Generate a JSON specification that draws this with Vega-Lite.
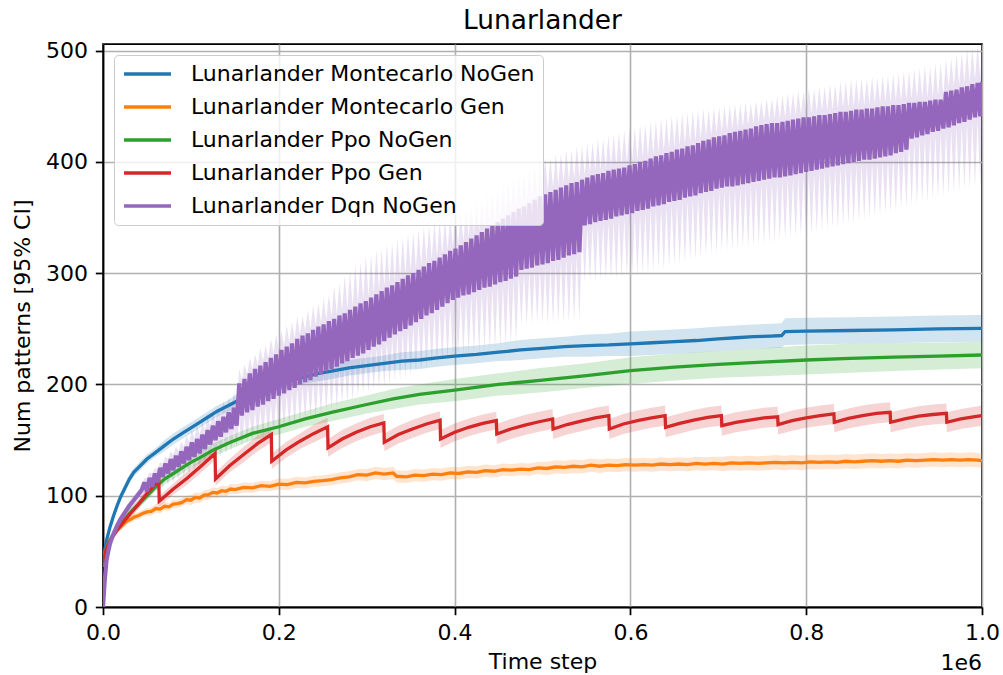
{
  "$schema": "https://vega.github.io/schema/vega-lite/v6.json",
  "width": 879,
  "height": 563,
  "autosize": {"type": "none"},
  "padding": {"left": 103, "top": 44, "right": 21, "bottom": 68},
  "background": "white",
  "title": {"text": "Lunarlander"},
  "datasets": {
    "mc_nogen": [
      {"t":0,"y":39,"lo":37,"hi":41},{"t":0.002,"y":51,"lo":48,"hi":54},{"t":0.004,"y":60,"lo":57,"hi":63},{"t":0.008,"y":72,"lo":69,"hi":75},
      {"t":0.012,"y":82,"lo":79,"hi":85},{"t":0.016,"y":91,"lo":87,"hi":95},{"t":0.02,"y":99,"lo":95,"hi":103},{"t":0.025,"y":107,"lo":103,"hi":111},
      {"t":0.03,"y":115,"lo":111,"hi":119},{"t":0.035,"y":121,"lo":117,"hi":125},{"t":0.04,"y":125,"lo":121,"hi":129},{"t":0.05,"y":133,"lo":129,"hi":137},
      {"t":0.06,"y":139,"lo":135,"hi":143},{"t":0.07,"y":145,"lo":140,"hi":150},{"t":0.08,"y":151,"lo":146,"hi":156},{"t":0.09,"y":156,"lo":151,"hi":161},
      {"t":0.1,"y":161,"lo":156,"hi":166},{"t":0.11,"y":166,"lo":161,"hi":171},{"t":0.12,"y":171,"lo":166,"hi":176},{"t":0.13,"y":176,"lo":171,"hi":181},
      {"t":0.14,"y":180,"lo":175,"hi":185},{"t":0.15,"y":184,"lo":178,"hi":190},{"t":0.162,"y":189,"lo":183,"hi":195},{"t":0.175,"y":193,"lo":187,"hi":199},
      {"t":0.187,"y":197,"lo":191,"hi":203},{"t":0.2,"y":201,"lo":195,"hi":207},{"t":0.215,"y":204,"lo":198,"hi":210},{"t":0.23,"y":207,"lo":201,"hi":213},
      {"t":0.245,"y":210,"lo":203,"hi":217},{"t":0.26,"y":212,"lo":205,"hi":219},{"t":0.28,"y":215,"lo":208,"hi":222},{"t":0.3,"y":217,"lo":210,"hi":224},
      {"t":0.32,"y":219,"lo":212,"hi":226},{"t":0.34,"y":221,"lo":213,"hi":229},{"t":0.36,"y":222,"lo":214,"hi":230},{"t":0.38,"y":224,"lo":216,"hi":232},
      {"t":0.4,"y":225.5,"lo":217.5,"hi":233.5},{"t":0.425,"y":227,"lo":219,"hi":235},{"t":0.45,"y":229,"lo":221,"hi":237},{"t":0.475,"y":231,"lo":222,"hi":240},
      {"t":0.5,"y":232.5,"lo":223.5,"hi":241.5},{"t":0.525,"y":234,"lo":225,"hi":243},{"t":0.55,"y":235,"lo":225,"hi":245},{"t":0.575,"y":235.5,"lo":225.5,"hi":245.5},
      {"t":0.6,"y":236.5,"lo":225.5,"hi":247.5},{"t":0.625,"y":237.5,"lo":226.5,"hi":248.5},{"t":0.65,"y":238.5,"lo":227.5,"hi":249.5},{"t":0.675,"y":239.5,"lo":228.5,"hi":250.5},
      {"t":0.7,"y":241,"lo":230,"hi":252},{"t":0.72,"y":242,"lo":231,"hi":253},{"t":0.74,"y":243,"lo":232,"hi":254},{"t":0.76,"y":243.5,"lo":232.5,"hi":254.5},
      {"t":0.772,"y":244,"lo":233,"hi":255},{"t":0.776,"y":247.5,"lo":235.5,"hi":259.5},{"t":0.8,"y":248,"lo":236,"hi":260},{"t":0.85,"y":248.5,"lo":236.5,"hi":260.5},
      {"t":0.9,"y":249,"lo":237,"hi":261},{"t":0.95,"y":250,"lo":238,"hi":262},{"t":1.0,"y":250.5,"lo":238.5,"hi":262.5}
    ],
    "mc_gen": [
      {"t":0,"y":42,"lo":40,"hi":44},{"t":0.002,"y":48,"lo":45.5,"hi":50.5},{"t":0.004,"y":53,"lo":50.5,"hi":55.5},{"t":0.006,"y":57,"lo":54.5,"hi":59.5},
      {"t":0.008,"y":60,"lo":57.5,"hi":62.5},{"t":0.01,"y":63,"lo":60,"hi":66},{"t":0.013,"y":66.5,"lo":63.5,"hi":69.5},{"t":0.016,"y":69.5,"lo":66,"hi":72.5},
      {"t":0.02,"y":72,"lo":69,"hi":75.5},{"t":0.024,"y":75,"lo":71.5,"hi":78},{"t":0.028,"y":77.5,"lo":74.5,"hi":81},{"t":0.032,"y":79,"lo":75.5,"hi":82},
      {"t":0.036,"y":81,"lo":78,"hi":84.5},{"t":0.04,"y":82,"lo":78.5,"hi":85},{"t":0.045,"y":84,"lo":81,"hi":87.5},{"t":0.05,"y":85.5,"lo":82,"hi":89},
      {"t":0.055,"y":86,"lo":82.5,"hi":89.5},{"t":0.06,"y":88.5,"lo":85,"hi":92.5},{"t":0.065,"y":88,"lo":84,"hi":91.5},{"t":0.07,"y":90.5,"lo":87,"hi":94.5},
      {"t":0.075,"y":90,"lo":86.5,"hi":93.5},{"t":0.08,"y":92.5,"lo":89,"hi":96.5},{"t":0.085,"y":93,"lo":89,"hi":96.5},{"t":0.09,"y":94,"lo":90.5,"hi":98},
      {"t":0.095,"y":96.5,"lo":92.5,"hi":100},{"t":0.1,"y":96,"lo":91.5,"hi":100.5},{"t":0.105,"y":98.5,"lo":94,"hi":103},{"t":0.11,"y":98,"lo":93.5,"hi":102.5},
      {"t":0.115,"y":100.5,"lo":96,"hi":105},{"t":0.12,"y":101,"lo":96.5,"hi":105.5},{"t":0.125,"y":103,"lo":98.5,"hi":107.5},{"t":0.13,"y":102.5,"lo":98,"hi":107},
      {"t":0.135,"y":104.5,"lo":100,"hi":109},{"t":0.14,"y":104,"lo":99.5,"hi":108.5},{"t":0.145,"y":106,"lo":101.5,"hi":110.5},{"t":0.15,"y":105.5,"lo":101,"hi":110},
      {"t":0.16,"y":107.5,"lo":103,"hi":112},{"t":0.17,"y":107,"lo":102.5,"hi":111.5},{"t":0.18,"y":109,"lo":104.5,"hi":113.5},{"t":0.19,"y":108.5,"lo":104,"hi":113},
      {"t":0.2,"y":110.5,"lo":105.5,"hi":115.5},{"t":0.21,"y":110,"lo":105,"hi":115},{"t":0.22,"y":112,"lo":107,"hi":117},{"t":0.23,"y":111.5,"lo":106.5,"hi":116.5},
      {"t":0.24,"y":113,"lo":108,"hi":118},{"t":0.25,"y":113.5,"lo":108.5,"hi":118.5},{"t":0.26,"y":114.5,"lo":109.5,"hi":119.5},{"t":0.27,"y":116,"lo":111,"hi":121},
      {"t":0.28,"y":117,"lo":112,"hi":122},{"t":0.29,"y":119,"lo":114,"hi":124},{"t":0.3,"y":118.5,"lo":113,"hi":124},{"t":0.31,"y":120.5,"lo":115,"hi":126},
      {"t":0.32,"y":119.5,"lo":114,"hi":125},{"t":0.33,"y":120.5,"lo":115,"hi":126},{"t":0.334,"y":117.5,"lo":112,"hi":123},{"t":0.345,"y":117,"lo":111.5,"hi":122.5},
      {"t":0.355,"y":118.5,"lo":113,"hi":124},{"t":0.365,"y":118,"lo":112.5,"hi":123.5},{"t":0.375,"y":119.5,"lo":114,"hi":125},{"t":0.385,"y":119,"lo":113.5,"hi":124.5},
      {"t":0.395,"y":120.5,"lo":115,"hi":126},{"t":0.405,"y":120,"lo":114.5,"hi":125.5},{"t":0.415,"y":121.5,"lo":116,"hi":127},{"t":0.425,"y":121,"lo":115.5,"hi":126.5},
      {"t":0.435,"y":122.5,"lo":117,"hi":128},{"t":0.445,"y":122,"lo":116.5,"hi":127.5},{"t":0.455,"y":123.5,"lo":118,"hi":129},{"t":0.465,"y":123,"lo":117.5,"hi":128.5},
      {"t":0.475,"y":124,"lo":118.5,"hi":129.5},{"t":0.485,"y":123.5,"lo":118,"hi":129},{"t":0.495,"y":125,"lo":119.5,"hi":130.5},{"t":0.505,"y":124.5,"lo":118.5,"hi":130.5},
      {"t":0.515,"y":126,"lo":120,"hi":132},{"t":0.525,"y":125.5,"lo":119.5,"hi":131.5},{"t":0.535,"y":126.5,"lo":120.5,"hi":132.5},{"t":0.545,"y":126,"lo":120,"hi":132},
      {"t":0.555,"y":127.5,"lo":121.5,"hi":133.5},{"t":0.565,"y":126.5,"lo":120.5,"hi":132.5},{"t":0.575,"y":127.5,"lo":121.5,"hi":133.5},{"t":0.585,"y":127,"lo":121,"hi":133},
      {"t":0.595,"y":128,"lo":122,"hi":134},{"t":0.605,"y":127.5,"lo":121.5,"hi":133.5},{"t":0.615,"y":128,"lo":122,"hi":134},{"t":0.625,"y":127.5,"lo":121.5,"hi":133.5},
      {"t":0.635,"y":128.5,"lo":122.5,"hi":134.5},{"t":0.645,"y":128,"lo":122,"hi":134},{"t":0.655,"y":128.5,"lo":122.5,"hi":134.5},{"t":0.665,"y":128,"lo":122,"hi":134},
      {"t":0.675,"y":129,"lo":123,"hi":135},{"t":0.685,"y":128.5,"lo":122.5,"hi":134.5},{"t":0.695,"y":129,"lo":123,"hi":135},{"t":0.705,"y":128.5,"lo":122,"hi":135},
      {"t":0.715,"y":129.5,"lo":123,"hi":136},{"t":0.725,"y":129,"lo":122.5,"hi":135.5},{"t":0.735,"y":129.5,"lo":123,"hi":136},{"t":0.745,"y":129,"lo":122.5,"hi":135.5},
      {"t":0.755,"y":129.5,"lo":123,"hi":136},{"t":0.765,"y":130,"lo":123.5,"hi":136.5},{"t":0.775,"y":129.5,"lo":123,"hi":136},{"t":0.785,"y":130,"lo":123.5,"hi":136.5},
      {"t":0.795,"y":129.5,"lo":123,"hi":136},{"t":0.805,"y":130.5,"lo":124,"hi":137},{"t":0.815,"y":130,"lo":123.5,"hi":136.5},{"t":0.825,"y":130.5,"lo":124,"hi":137},
      {"t":0.835,"y":130,"lo":123.5,"hi":136.5},{"t":0.845,"y":131,"lo":124.5,"hi":137.5},{"t":0.855,"y":130.5,"lo":124,"hi":137},{"t":0.865,"y":131,"lo":124.5,"hi":137.5},
      {"t":0.875,"y":131.5,"lo":125,"hi":138},{"t":0.885,"y":131,"lo":124.5,"hi":137.5},{"t":0.895,"y":131.5,"lo":125,"hi":138},{"t":0.905,"y":131,"lo":124.5,"hi":137.5},
      {"t":0.915,"y":132,"lo":125.5,"hi":138.5},{"t":0.925,"y":131.5,"lo":125,"hi":138},{"t":0.935,"y":132,"lo":125.5,"hi":138.5},{"t":0.945,"y":132.5,"lo":126,"hi":139},
      {"t":0.955,"y":132,"lo":125.5,"hi":138.5},{"t":0.965,"y":132.5,"lo":126,"hi":139},{"t":0.975,"y":132,"lo":125.5,"hi":138.5},{"t":0.985,"y":132.5,"lo":126,"hi":139},
      {"t":0.995,"y":132,"lo":125.5,"hi":138.5},{"t":1.0,"y":131.5,"lo":125,"hi":138}
    ],
    "ppo_nogen": [
      {"t":0,"y":36,"lo":34,"hi":38},{"t":0.003,"y":48,"lo":46,"hi":50},{"t":0.006,"y":56,"lo":53,"hi":59},{"t":0.01,"y":63,"lo":60,"hi":66},
      {"t":0.015,"y":69,"lo":66,"hi":72},{"t":0.023,"y":77,"lo":74,"hi":80},{"t":0.03,"y":84,"lo":80,"hi":88},{"t":0.04,"y":92,"lo":88,"hi":96},
      {"t":0.05,"y":100,"lo":96,"hi":104},{"t":0.06,"y":108,"lo":104,"hi":112},{"t":0.07,"y":115,"lo":110,"hi":120},{"t":0.08,"y":120,"lo":115,"hi":125},
      {"t":0.09,"y":125,"lo":120,"hi":130},{"t":0.1,"y":130,"lo":125,"hi":135},{"t":0.11,"y":134,"lo":129,"hi":139},{"t":0.125,"y":141,"lo":135,"hi":147},
      {"t":0.145,"y":148,"lo":142,"hi":154},{"t":0.17,"y":156,"lo":150,"hi":162},{"t":0.2,"y":162,"lo":155,"hi":169},{"t":0.23,"y":169,"lo":162,"hi":176},
      {"t":0.26,"y":175,"lo":167,"hi":183},{"t":0.3,"y":182,"lo":174,"hi":190},{"t":0.33,"y":187,"lo":178,"hi":196},{"t":0.36,"y":191,"lo":182,"hi":200},
      {"t":0.4,"y":195,"lo":185,"hi":205},{"t":0.45,"y":200,"lo":190,"hi":210},{"t":0.5,"y":204,"lo":193,"hi":215},{"t":0.55,"y":208,"lo":197,"hi":219},
      {"t":0.6,"y":212.5,"lo":200.5,"hi":224.5},{"t":0.65,"y":215.5,"lo":203.5,"hi":227.5},{"t":0.7,"y":218,"lo":206,"hi":230},{"t":0.75,"y":220,"lo":207.5,"hi":232.5},
      {"t":0.8,"y":222,"lo":209,"hi":235},{"t":0.85,"y":223.5,"lo":210.5,"hi":236.5},{"t":0.9,"y":224.5,"lo":212,"hi":237},{"t":0.95,"y":225.5,"lo":213.5,"hi":237.5},
      {"t":1.0,"y":226.5,"lo":214.5,"hi":238.5}
    ],
    "ppo_gen": [
      {"t":0,"y":40,"lo":38,"hi":42},{"t":0.003,"y":50,"lo":48,"hi":52},{"t":0.006,"y":56,"lo":53,"hi":59},{"t":0.01,"y":62,"lo":59,"hi":65},
      {"t":0.015,"y":68,"lo":65,"hi":71},{"t":0.023,"y":76,"lo":72,"hi":80},{"t":0.03,"y":83,"lo":79,"hi":87},{"t":0.04,"y":92,"lo":88,"hi":96},
      {"t":0.05,"y":102,"lo":97,"hi":107},{"t":0.0635,"y":114,"lo":109,"hi":119},
      {"t":0.064,"y":95,"lo":90,"hi":100},{"t":0.08,"y":106,"lo":101,"hi":111},{"t":0.096,"y":116,"lo":110,"hi":122},{"t":0.112,"y":127,"lo":121,"hi":133},{"t":0.1275,"y":138,"lo":132,"hi":144},
      {"t":0.128,"y":115,"lo":109,"hi":121},{"t":0.144,"y":127,"lo":121,"hi":133},{"t":0.16,"y":137,"lo":130,"hi":144},{"t":0.176,"y":147,"lo":140,"hi":154},{"t":0.1915,"y":155,"lo":148,"hi":162},
      {"t":0.192,"y":131,"lo":124,"hi":138},{"t":0.208,"y":141,"lo":134,"hi":148},{"t":0.224,"y":149,"lo":142,"hi":156},{"t":0.24,"y":156,"lo":148,"hi":164},{"t":0.2555,"y":162,"lo":154,"hi":170},
      {"t":0.256,"y":143,"lo":135,"hi":151},{"t":0.272,"y":151,"lo":143,"hi":159},{"t":0.288,"y":157,"lo":149,"hi":165},{"t":0.304,"y":162,"lo":154,"hi":170},{"t":0.3195,"y":165.5,"lo":157.5,"hi":173.5},
      {"t":0.32,"y":148,"lo":140,"hi":156},{"t":0.336,"y":155,"lo":147,"hi":163},{"t":0.352,"y":160,"lo":152,"hi":168},{"t":0.368,"y":164.5,"lo":156.5,"hi":172.5},{"t":0.3835,"y":168,"lo":160,"hi":176},
      {"t":0.384,"y":151,"lo":143,"hi":159},{"t":0.4,"y":157,"lo":149,"hi":165},{"t":0.416,"y":161.5,"lo":153.5,"hi":169.5},{"t":0.432,"y":165,"lo":157,"hi":173},{"t":0.4475,"y":167.5,"lo":159.5,"hi":175.5},
      {"t":0.448,"y":155.5,"lo":146.5,"hi":164.5},{"t":0.464,"y":160,"lo":151,"hi":169},{"t":0.48,"y":163.5,"lo":154.5,"hi":172.5},{"t":0.496,"y":166.5,"lo":157.5,"hi":175.5},{"t":0.5115,"y":169,"lo":160,"hi":178},
      {"t":0.512,"y":160,"lo":151,"hi":169},{"t":0.528,"y":164,"lo":155,"hi":173},{"t":0.544,"y":167,"lo":158,"hi":176},{"t":0.56,"y":170,"lo":161,"hi":179},{"t":0.5755,"y":172,"lo":163,"hi":181},
      {"t":0.576,"y":160,"lo":151,"hi":169},{"t":0.592,"y":164.5,"lo":155.5,"hi":173.5},{"t":0.608,"y":167.5,"lo":158.5,"hi":176.5},{"t":0.624,"y":170,"lo":161,"hi":179},{"t":0.6395,"y":172,"lo":163,"hi":181},
      {"t":0.64,"y":161.5,"lo":152.5,"hi":170.5},{"t":0.656,"y":165,"lo":156,"hi":174},{"t":0.672,"y":168,"lo":159,"hi":177},{"t":0.688,"y":170.5,"lo":161.5,"hi":179.5},{"t":0.7035,"y":172,"lo":163,"hi":181},
      {"t":0.704,"y":163,"lo":154,"hi":172},{"t":0.72,"y":166,"lo":157,"hi":175},{"t":0.736,"y":168,"lo":159,"hi":177},{"t":0.752,"y":170,"lo":161,"hi":179},{"t":0.7675,"y":171,"lo":162,"hi":180},
      {"t":0.768,"y":164,"lo":155,"hi":173},{"t":0.784,"y":167.5,"lo":158.5,"hi":176.5},{"t":0.8,"y":170,"lo":161,"hi":179},{"t":0.816,"y":172,"lo":163,"hi":181},{"t":0.8315,"y":173.5,"lo":164.5,"hi":182.5},
      {"t":0.832,"y":166,"lo":157,"hi":175},{"t":0.848,"y":169.5,"lo":160.5,"hi":178.5},{"t":0.864,"y":172,"lo":163,"hi":181},{"t":0.88,"y":174,"lo":165,"hi":183},{"t":0.8955,"y":175,"lo":166,"hi":184},
      {"t":0.896,"y":166,"lo":157,"hi":175},{"t":0.912,"y":169,"lo":160,"hi":178},{"t":0.928,"y":171.5,"lo":162.5,"hi":180.5},{"t":0.944,"y":173,"lo":164,"hi":182},{"t":0.9595,"y":174,"lo":165,"hi":183},
      {"t":0.96,"y":166,"lo":157,"hi":175},{"t":0.976,"y":169,"lo":160,"hi":178},{"t":0.992,"y":171,"lo":162,"hi":180},{"t":1.0,"y":172,"lo":163,"hi":181}
    ],
    "dqn_nogen": [
      {"t":0,"y":0,"lo":0,"hi":2},{"t":0.001,"y":12,"lo":9,"hi":15},{"t":0.002,"y":24,"lo":20,"hi":28},{"t":0.003,"y":33,"lo":29,"hi":37},
      {"t":0.004,"y":42,"lo":38,"hi":46},{"t":0.006,"y":50,"lo":46,"hi":54},{"t":0.008,"y":57,"lo":53,"hi":61},{"t":0.012,"y":66,"lo":62,"hi":70},
      {"t":0.016,"y":73,"lo":69,"hi":77},{"t":0.02,"y":79,"lo":75,"hi":83},{"t":0.025,"y":85,"lo":81,"hi":89},{"t":0.03,"y":91,"lo":87,"hi":95},
      {"t":0.035,"y":96,"lo":92,"hi":100},{"t":0.04,"y":101,"lo":97,"hi":105},{"t":0.044,"y":105,"lo":100,"hi":110},
      {"t":0.047,"y":112,"lo":100,"hi":116},{"t":0.05,"y":104,"lo":99,"hi":116},
      {"t":0.053,"y":116,"lo":104,"hi":121},{"t":0.056,"y":108,"lo":102,"hi":120},
      {"t":0.059,"y":120,"lo":108,"hi":125},{"t":0.062,"y":112,"lo":104,"hi":124},
      {"t":0.065,"y":125,"lo":113,"hi":130},{"t":0.068,"y":117,"lo":107,"hi":129},
      {"t":0.071,"y":129,"lo":116,"hi":135},{"t":0.074,"y":120,"lo":110,"hi":133},
      {"t":0.077,"y":133,"lo":119,"hi":140},{"t":0.08,"y":123,"lo":112,"hi":137},
      {"t":0.083,"y":136,"lo":122,"hi":144},{"t":0.086,"y":126,"lo":115,"hi":140},
      {"t":0.089,"y":140,"lo":125,"hi":149},{"t":0.092,"y":129,"lo":118,"hi":144},
      {"t":0.095,"y":144,"lo":128,"hi":154},{"t":0.098,"y":132,"lo":120,"hi":148},
      {"t":0.101,"y":148,"lo":131,"hi":159},{"t":0.104,"y":135,"lo":123,"hi":152},
      {"t":0.107,"y":151,"lo":134,"hi":163},{"t":0.11,"y":138,"lo":125,"hi":155},
      {"t":0.113,"y":155,"lo":138,"hi":167},{"t":0.116,"y":142,"lo":127,"hi":159},
      {"t":0.119,"y":159,"lo":142,"hi":171},{"t":0.122,"y":146,"lo":131,"hi":163},
      {"t":0.125,"y":163,"lo":146,"hi":176},{"t":0.128,"y":150,"lo":133,"hi":167},
      {"t":0.131,"y":167,"lo":149,"hi":180},{"t":0.134,"y":153,"lo":135,"hi":171},
      {"t":0.137,"y":171,"lo":153,"hi":185},{"t":0.14,"y":157,"lo":138,"hi":175},
      {"t":0.143,"y":175,"lo":156,"hi":188},{"t":0.146,"y":160,"lo":140,"hi":179},
      {"t":0.149,"y":179,"lo":159,"hi":193},{"t":0.152,"y":163,"lo":143,"hi":183},
      {"t":0.155,"y":201,"lo":168,"hi":214},{"t":0.158,"y":172,"lo":144,"hi":205},
      {"t":0.161,"y":205,"lo":171,"hi":218},{"t":0.164,"y":175,"lo":147,"hi":209},
      {"t":0.167,"y":210,"lo":173,"hi":224},{"t":0.17,"y":177,"lo":148,"hi":214},
      {"t":0.173,"y":214,"lo":176,"hi":227},{"t":0.176,"y":180,"lo":151,"hi":218},
      {"t":0.179,"y":217,"lo":178,"hi":233},{"t":0.182,"y":182,"lo":152,"hi":221},
      {"t":0.185,"y":220,"lo":181,"hi":235},{"t":0.188,"y":185,"lo":154,"hi":224},
      {"t":0.191,"y":224,"lo":183,"hi":241},{"t":0.194,"y":187,"lo":155,"hi":228},
      {"t":0.197,"y":227,"lo":186,"hi":245},{"t":0.2,"y":190,"lo":157,"hi":231},
      {"t":0.203,"y":231,"lo":188,"hi":248},{"t":0.206,"y":192,"lo":160,"hi":235},
      {"t":0.209,"y":234,"lo":191,"hi":253},{"t":0.212,"y":195,"lo":161,"hi":238},
      {"t":0.215,"y":237,"lo":193,"hi":256},{"t":0.218,"y":197,"lo":163,"hi":241},
      {"t":0.221,"y":241,"lo":196,"hi":261},{"t":0.224,"y":200,"lo":166,"hi":245},
      {"t":0.227,"y":244,"lo":198,"hi":262},{"t":0.23,"y":202,"lo":169,"hi":248},
      {"t":0.233,"y":246,"lo":200,"hi":267},{"t":0.236,"y":204,"lo":170,"hi":250},
      {"t":0.239,"y":249,"lo":203,"hi":271},{"t":0.242,"y":207,"lo":171,"hi":253},
      {"t":0.245,"y":252,"lo":205,"hi":273},{"t":0.248,"y":209,"lo":174,"hi":256},
      {"t":0.251,"y":254,"lo":208,"hi":278},{"t":0.254,"y":212,"lo":177,"hi":258},
      {"t":0.257,"y":257,"lo":210,"hi":281},{"t":0.26,"y":214,"lo":178,"hi":261},
      {"t":0.263,"y":259,"lo":212,"hi":288},{"t":0.266,"y":216,"lo":180,"hi":263},
      {"t":0.269,"y":262,"lo":215,"hi":291},{"t":0.272,"y":219,"lo":183,"hi":266},
      {"t":0.275,"y":264,"lo":217,"hi":298},{"t":0.278,"y":221,"lo":184,"hi":268},
      {"t":0.281,"y":267,"lo":220,"hi":301},{"t":0.284,"y":224,"lo":186,"hi":271},
      {"t":0.287,"y":270,"lo":222,"hi":307},{"t":0.29,"y":226,"lo":189,"hi":274},
      {"t":0.293,"y":273,"lo":224,"hi":310},{"t":0.296,"y":228,"lo":192,"hi":277},
      {"t":0.299,"y":275,"lo":227,"hi":316},{"t":0.302,"y":231,"lo":193,"hi":279},
      {"t":0.305,"y":278,"lo":230,"hi":317},{"t":0.308,"y":234,"lo":195,"hi":282},
      {"t":0.311,"y":281,"lo":232,"hi":321},{"t":0.314,"y":236,"lo":197,"hi":285},
      {"t":0.317,"y":284,"lo":235,"hi":322},{"t":0.32,"y":239,"lo":198,"hi":288},
      {"t":0.323,"y":287,"lo":238,"hi":326},{"t":0.326,"y":242,"lo":200,"hi":291},
      {"t":0.329,"y":289,"lo":241,"hi":327},{"t":0.332,"y":245,"lo":203,"hi":293},
      {"t":0.335,"y":292,"lo":244,"hi":331},{"t":0.338,"y":248,"lo":204,"hi":296},
      {"t":0.341,"y":295,"lo":246,"hi":332},{"t":0.344,"y":250,"lo":206,"hi":299},
      {"t":0.347,"y":298,"lo":249,"hi":336},{"t":0.35,"y":253,"lo":208,"hi":302},
      {"t":0.353,"y":300,"lo":252,"hi":337},{"t":0.356,"y":256,"lo":211,"hi":304},
      {"t":0.359,"y":303,"lo":255,"hi":339},{"t":0.362,"y":259,"lo":212,"hi":307},
      {"t":0.365,"y":306,"lo":258,"hi":342},{"t":0.368,"y":262,"lo":214,"hi":310},
      {"t":0.371,"y":309,"lo":260,"hi":343},{"t":0.374,"y":264,"lo":217,"hi":313},
      {"t":0.377,"y":311,"lo":263,"hi":346},{"t":0.38,"y":267,"lo":218,"hi":315},
      {"t":0.383,"y":314,"lo":266,"hi":347},{"t":0.386,"y":270,"lo":220,"hi":318},
      {"t":0.389,"y":317,"lo":269,"hi":349},{"t":0.392,"y":273,"lo":222,"hi":321},
      {"t":0.395,"y":320,"lo":272,"hi":350},{"t":0.398,"y":276,"lo":225,"hi":324},
      {"t":0.401,"y":322,"lo":274,"hi":353},{"t":0.404,"y":278,"lo":226,"hi":326},
      {"t":0.407,"y":325,"lo":276,"hi":355},{"t":0.41,"y":280,"lo":227,"hi":329},
      {"t":0.413,"y":328,"lo":277,"hi":359},{"t":0.416,"y":281,"lo":228,"hi":332},
      {"t":0.419,"y":331,"lo":279,"hi":361},{"t":0.422,"y":283,"lo":229,"hi":335},
      {"t":0.425,"y":334,"lo":281,"hi":365},{"t":0.428,"y":285,"lo":229,"hi":338},
      {"t":0.431,"y":337,"lo":283,"hi":367},{"t":0.434,"y":287,"lo":231,"hi":341},
      {"t":0.437,"y":340,"lo":284,"hi":371},{"t":0.44,"y":288,"lo":231,"hi":344},
      {"t":0.443,"y":343,"lo":286,"hi":373},{"t":0.446,"y":290,"lo":233,"hi":347},
      {"t":0.449,"y":346,"lo":288,"hi":376},{"t":0.452,"y":292,"lo":233,"hi":350},
      {"t":0.455,"y":349,"lo":289,"hi":379},{"t":0.458,"y":293,"lo":235,"hi":353},
      {"t":0.461,"y":352,"lo":291,"hi":383},{"t":0.464,"y":295,"lo":236,"hi":356},
      {"t":0.467,"y":355,"lo":293,"hi":385},{"t":0.47,"y":297,"lo":238,"hi":359},
      {"t":0.473,"y":358,"lo":299,"hi":389},{"t":0.476,"y":303,"lo":254,"hi":362},
      {"t":0.479,"y":360,"lo":300,"hi":391},{"t":0.482,"y":304,"lo":253,"hi":364},
      {"t":0.485,"y":363,"lo":301,"hi":395},{"t":0.488,"y":305,"lo":254,"hi":367},
      {"t":0.491,"y":366,"lo":303,"hi":397},{"t":0.494,"y":307,"lo":256,"hi":370},
      {"t":0.497,"y":369,"lo":304,"hi":400},{"t":0.5,"y":308,"lo":255,"hi":373},
      {"t":0.503,"y":371,"lo":305,"hi":404},{"t":0.506,"y":309,"lo":254,"hi":375},
      {"t":0.509,"y":373,"lo":307,"hi":404},{"t":0.512,"y":311,"lo":255,"hi":377},
      {"t":0.515,"y":375,"lo":308,"hi":407},{"t":0.518,"y":312,"lo":256,"hi":379},
      {"t":0.521,"y":377,"lo":310,"hi":408},{"t":0.524,"y":314,"lo":255,"hi":381},
      {"t":0.527,"y":379,"lo":312,"hi":411},{"t":0.53,"y":316,"lo":256,"hi":383},
      {"t":0.533,"y":381,"lo":313,"hi":411},{"t":0.536,"y":317,"lo":257,"hi":385},
      {"t":0.539,"y":382,"lo":315,"hi":414},{"t":0.542,"y":319,"lo":256,"hi":386},
      {"t":0.545,"y":384,"lo":339,"hi":415},{"t":0.548,"y":343,"lo":292,"hi":388},
      {"t":0.551,"y":386,"lo":340,"hi":417},{"t":0.554,"y":344,"lo":293,"hi":390},
      {"t":0.557,"y":388,"lo":342,"hi":418},{"t":0.56,"y":346,"lo":292,"hi":392},
      {"t":0.563,"y":389,"lo":343,"hi":421},{"t":0.566,"y":347,"lo":294,"hi":393},
      {"t":0.569,"y":390,"lo":344,"hi":421},{"t":0.572,"y":348,"lo":295,"hi":394},
      {"t":0.575,"y":392,"lo":345,"hi":424},{"t":0.578,"y":349,"lo":295,"hi":396},
      {"t":0.581,"y":393,"lo":347,"hi":425},{"t":0.584,"y":351,"lo":294,"hi":397},
      {"t":0.587,"y":394,"lo":348,"hi":427},{"t":0.59,"y":352,"lo":296,"hi":398},
      {"t":0.593,"y":395,"lo":349,"hi":428},{"t":0.596,"y":353,"lo":298,"hi":399},
      {"t":0.599,"y":397,"lo":350,"hi":431},{"t":0.602,"y":354,"lo":297,"hi":401},
      {"t":0.605,"y":398,"lo":352,"hi":431},{"t":0.608,"y":356,"lo":298,"hi":402},
      {"t":0.611,"y":400,"lo":353,"hi":434},{"t":0.614,"y":357,"lo":300,"hi":404},
      {"t":0.617,"y":401,"lo":354,"hi":434},{"t":0.62,"y":358,"lo":300,"hi":405},
      {"t":0.623,"y":403,"lo":356,"hi":437},{"t":0.626,"y":360,"lo":302,"hi":407},
      {"t":0.629,"y":405,"lo":357,"hi":437},{"t":0.632,"y":361,"lo":304,"hi":409},
      {"t":0.635,"y":406,"lo":358,"hi":439},{"t":0.638,"y":362,"lo":303,"hi":410},
      {"t":0.641,"y":408,"lo":360,"hi":440},{"t":0.644,"y":364,"lo":305,"hi":412},
      {"t":0.647,"y":409,"lo":361,"hi":442},{"t":0.65,"y":365,"lo":307,"hi":413},
      {"t":0.653,"y":411,"lo":362,"hi":442},{"t":0.656,"y":366,"lo":307,"hi":415},
      {"t":0.659,"y":412,"lo":364,"hi":444},{"t":0.662,"y":368,"lo":309,"hi":416},
      {"t":0.665,"y":414,"lo":365,"hi":444},{"t":0.668,"y":369,"lo":311,"hi":418},
      {"t":0.671,"y":415,"lo":366,"hi":446},{"t":0.674,"y":370,"lo":312,"hi":419},
      {"t":0.677,"y":417,"lo":368,"hi":446},{"t":0.68,"y":372,"lo":313,"hi":421},
      {"t":0.683,"y":419,"lo":369,"hi":448},{"t":0.686,"y":373,"lo":315,"hi":423},
      {"t":0.689,"y":420,"lo":370,"hi":447},{"t":0.692,"y":374,"lo":317,"hi":424},
      {"t":0.695,"y":422,"lo":372,"hi":449},{"t":0.698,"y":376,"lo":317,"hi":426},
      {"t":0.701,"y":423,"lo":373,"hi":449},{"t":0.704,"y":377,"lo":319,"hi":427},
      {"t":0.707,"y":424,"lo":374,"hi":451},{"t":0.71,"y":378,"lo":320,"hi":428},
      {"t":0.713,"y":426,"lo":374,"hi":451},{"t":0.716,"y":378,"lo":321,"hi":430},
      {"t":0.719,"y":427,"lo":375,"hi":452},{"t":0.722,"y":379,"lo":322,"hi":431},
      {"t":0.725,"y":428,"lo":376,"hi":452},{"t":0.728,"y":380,"lo":323,"hi":432},
      {"t":0.731,"y":429,"lo":377,"hi":454},{"t":0.734,"y":381,"lo":323,"hi":433},
      {"t":0.737,"y":430,"lo":378,"hi":453},{"t":0.74,"y":382,"lo":324,"hi":434},
      {"t":0.743,"y":432,"lo":379,"hi":455},{"t":0.746,"y":383,"lo":326,"hi":436},
      {"t":0.749,"y":433,"lo":380,"hi":455},{"t":0.752,"y":384,"lo":326,"hi":437},
      {"t":0.755,"y":434,"lo":381,"hi":457},{"t":0.758,"y":385,"lo":327,"hi":438},
      {"t":0.761,"y":435,"lo":382,"hi":457},{"t":0.764,"y":386,"lo":328,"hi":439},
      {"t":0.767,"y":435,"lo":382,"hi":459},{"t":0.77,"y":386,"lo":330,"hi":439},
      {"t":0.773,"y":436,"lo":383,"hi":460},{"t":0.776,"y":387,"lo":330,"hi":440},
      {"t":0.779,"y":437,"lo":384,"hi":462},{"t":0.782,"y":388,"lo":331,"hi":441},
      {"t":0.785,"y":438,"lo":385,"hi":462},{"t":0.788,"y":389,"lo":333,"hi":442},
      {"t":0.791,"y":439,"lo":386,"hi":464},{"t":0.794,"y":390,"lo":333,"hi":443},
      {"t":0.797,"y":440,"lo":387,"hi":464},{"t":0.8,"y":391,"lo":334,"hi":444},
      {"t":0.803,"y":440,"lo":388,"hi":466},{"t":0.806,"y":392,"lo":335,"hi":444},
      {"t":0.809,"y":441,"lo":389,"hi":466},{"t":0.812,"y":393,"lo":337,"hi":445},
      {"t":0.815,"y":442,"lo":390,"hi":468},{"t":0.818,"y":394,"lo":338,"hi":446},
      {"t":0.821,"y":442,"lo":391,"hi":468},{"t":0.824,"y":395,"lo":339,"hi":446},
      {"t":0.827,"y":443,"lo":392,"hi":470},{"t":0.83,"y":396,"lo":341,"hi":447},
      {"t":0.833,"y":444,"lo":393,"hi":470},{"t":0.836,"y":397,"lo":341,"hi":448},
      {"t":0.839,"y":445,"lo":394,"hi":472},{"t":0.842,"y":398,"lo":343,"hi":449},
      {"t":0.845,"y":445,"lo":395,"hi":472},{"t":0.848,"y":399,"lo":344,"hi":449},
      {"t":0.851,"y":446,"lo":396,"hi":474},{"t":0.854,"y":400,"lo":345,"hi":450},
      {"t":0.857,"y":447,"lo":397,"hi":474},{"t":0.86,"y":401,"lo":347,"hi":451},
      {"t":0.863,"y":447,"lo":398,"hi":475},{"t":0.866,"y":402,"lo":348,"hi":451},
      {"t":0.869,"y":448,"lo":398,"hi":475},{"t":0.872,"y":402,"lo":350,"hi":452},
      {"t":0.875,"y":448,"lo":399,"hi":477},{"t":0.878,"y":403,"lo":351,"hi":452},
      {"t":0.881,"y":449,"lo":400,"hi":476},{"t":0.884,"y":404,"lo":353,"hi":453},
      {"t":0.887,"y":450,"lo":401,"hi":478},{"t":0.89,"y":405,"lo":354,"hi":454},
      {"t":0.893,"y":450,"lo":402,"hi":477},{"t":0.896,"y":406,"lo":356,"hi":454},
      {"t":0.899,"y":451,"lo":404,"hi":479},{"t":0.902,"y":408,"lo":356,"hi":455},
      {"t":0.905,"y":451,"lo":405,"hi":479},{"t":0.908,"y":409,"lo":358,"hi":455},
      {"t":0.911,"y":452,"lo":407,"hi":481},{"t":0.914,"y":411,"lo":359,"hi":456},
      {"t":0.917,"y":453,"lo":417,"hi":481},{"t":0.92,"y":421,"lo":361,"hi":457},
      {"t":0.923,"y":453,"lo":418,"hi":484},{"t":0.926,"y":422,"lo":362,"hi":457},
      {"t":0.929,"y":454,"lo":420,"hi":484},{"t":0.932,"y":424,"lo":364,"hi":458},
      {"t":0.935,"y":454,"lo":421,"hi":486},{"t":0.938,"y":425,"lo":364,"hi":458},
      {"t":0.941,"y":455,"lo":423,"hi":486},{"t":0.944,"y":427,"lo":366,"hi":459},
      {"t":0.947,"y":456,"lo":424,"hi":488},{"t":0.95,"y":428,"lo":367,"hi":460},
      {"t":0.953,"y":456,"lo":426,"hi":489},{"t":0.956,"y":430,"lo":369,"hi":460},
      {"t":0.959,"y":463,"lo":427,"hi":492},{"t":0.962,"y":431,"lo":370,"hi":467},
      {"t":0.965,"y":464,"lo":429,"hi":493},{"t":0.968,"y":433,"lo":372,"hi":468},
      {"t":0.971,"y":465,"lo":431,"hi":497},{"t":0.974,"y":435,"lo":373,"hi":469},
      {"t":0.977,"y":467,"lo":432,"hi":498},{"t":0.98,"y":436,"lo":375,"hi":471},
      {"t":0.983,"y":468,"lo":434,"hi":501},{"t":0.986,"y":438,"lo":376,"hi":472},
      {"t":0.989,"y":470,"lo":436,"hi":502},{"t":0.992,"y":440,"lo":378,"hi":474},
      {"t":0.995,"y":471,"lo":437,"hi":505},{"t":0.998,"y":441,"lo":378,"hi":475},
      {"t":1.0,"y":472,"lo":438,"hi":506}
    ],
    "offset_note": [{"label": "1e6", "t": 1, "y": 0}]
  },
  "encoding": {
    "x": {
      "field": "t",
      "type": "quantitative",
      "title": "Time step",
      "scale": {"domain": [0, 1], "nice": false, "zero": false},
      "axis": {"values": [0, 0.2, 0.4, 0.6, 0.8, 1.0], "format": ".1f"}
    },
    "y": {
      "field": "y",
      "type": "quantitative",
      "title": "Num patterns [95% CI]",
      "scale": {"domain": [0, 506], "nice": false, "zero": false},
      "axis": {"values": [0, 100, 200, 300, 400, 500]}
    }
  },
  "layer": [
    {
      "data": {"name": "mc_nogen"},
      "mark": {"type": "area", "color": "#1f77b4", "opacity": 0.2, "clip": true},
      "encoding": {"y": {"field": "lo", "type": "quantitative", "title": "Num patterns [95% CI]"}, "y2": {"field": "hi"}}
    },
    {
      "data": {"name": "mc_gen"},
      "mark": {"type": "area", "color": "#ff7f0e", "opacity": 0.2, "clip": true},
      "encoding": {"y": {"field": "lo", "type": "quantitative", "title": "Num patterns [95% CI]"}, "y2": {"field": "hi"}}
    },
    {
      "data": {"name": "ppo_nogen"},
      "mark": {"type": "area", "color": "#2ca02c", "opacity": 0.2, "clip": true},
      "encoding": {"y": {"field": "lo", "type": "quantitative", "title": "Num patterns [95% CI]"}, "y2": {"field": "hi"}}
    },
    {
      "data": {"name": "ppo_gen"},
      "mark": {"type": "area", "color": "#d62728", "opacity": 0.2, "clip": true},
      "encoding": {"y": {"field": "lo", "type": "quantitative", "title": "Num patterns [95% CI]"}, "y2": {"field": "hi"}}
    },
    {
      "data": {"name": "dqn_nogen"},
      "mark": {"type": "area", "color": "#9467bd", "opacity": 0.2, "clip": true},
      "encoding": {"y": {"field": "lo", "type": "quantitative", "title": "Num patterns [95% CI]"}, "y2": {"field": "hi"}}
    },
    {
      "data": {"name": "mc_nogen"},
      "mark": {"type": "line", "strokeWidth": 3.3, "clip": true},
      "encoding": {
        "color": {
          "datum": "Lunarlander Montecarlo NoGen",
          "scale": {
            "domain": ["Lunarlander Montecarlo NoGen", "Lunarlander Montecarlo Gen", "Lunarlander Ppo NoGen", "Lunarlander Ppo Gen", "Lunarlander Dqn NoGen"],
            "range": ["#1f77b4", "#ff7f0e", "#2ca02c", "#d62728", "#9467bd"]
          }
        }
      }
    },
    {
      "data": {"name": "mc_gen"},
      "mark": {"type": "line", "strokeWidth": 3.3, "clip": true},
      "encoding": {"color": {"datum": "Lunarlander Montecarlo Gen"}}
    },
    {
      "data": {"name": "ppo_nogen"},
      "mark": {"type": "line", "strokeWidth": 3.3, "clip": true},
      "encoding": {"color": {"datum": "Lunarlander Ppo NoGen"}}
    },
    {
      "data": {"name": "ppo_gen"},
      "mark": {"type": "line", "strokeWidth": 3.3, "clip": true},
      "encoding": {"color": {"datum": "Lunarlander Ppo Gen"}}
    },
    {
      "data": {"name": "dqn_nogen"},
      "mark": {"type": "line", "strokeWidth": 4.2, "strokeJoin": "bevel", "clip": true},
      "encoding": {"color": {"datum": "Lunarlander Dqn NoGen"}}
    },
    {
      "data": {"name": "offset_note"},
      "mark": {"type": "text", "align": "right", "baseline": "alphabetic", "dy": 63, "fontSize": 22, "font": "DejaVu Sans", "color": "black"},
      "encoding": {
        "x": {"field": "t", "type": "quantitative", "title": "Time step"},
        "y": {"field": "y", "type": "quantitative", "title": "Num patterns [95% CI]"},
        "text": {"field": "label"}
      }
    }
  ],
  "config": {
    "font": "DejaVu Sans",
    "view": {"stroke": "black", "strokeWidth": 1.75},
    "axis": {
      "labelFont": "DejaVu Sans",
      "labelFontSize": 22,
      "labelColor": "black",
      "titleFont": "DejaVu Sans",
      "titleFontSize": 22,
      "titleFontWeight": "normal",
      "titleColor": "black",
      "grid": true,
      "gridColor": "#b0b0b0",
      "gridWidth": 1.6,
      "tickColor": "black",
      "tickSize": 7.7,
      "tickWidth": 1.75,
      "domainColor": "black",
      "domainWidth": 1.75,
      "labelPadding": 7.7,
      "labelFlush": false,
      "labelOverlap": false
    },
    "axisX": {"titlePadding": 8},
    "axisY": {"titlePadding": 11},
    "legend": {
      "orient": "top-left",
      "offset": 11,
      "padding": 8,
      "title": null,
      "fillColor": "rgba(255,255,255,0.8)",
      "strokeColor": "#cccccc",
      "cornerRadius": 4,
      "symbolType": "stroke",
      "symbolSize": 2209,
      "symbolStrokeWidth": 3.3,
      "clipHeight": 22,
      "rowPadding": 11,
      "labelFont": "DejaVu Sans",
      "labelFontSize": 22,
      "labelColor": "black",
      "labelOffset": 18,
      "labelLimit": 500
    },
    "title": {"font": "DejaVu Sans", "fontSize": 26.4, "fontWeight": "normal", "color": "black", "offset": 5}
  }
}
